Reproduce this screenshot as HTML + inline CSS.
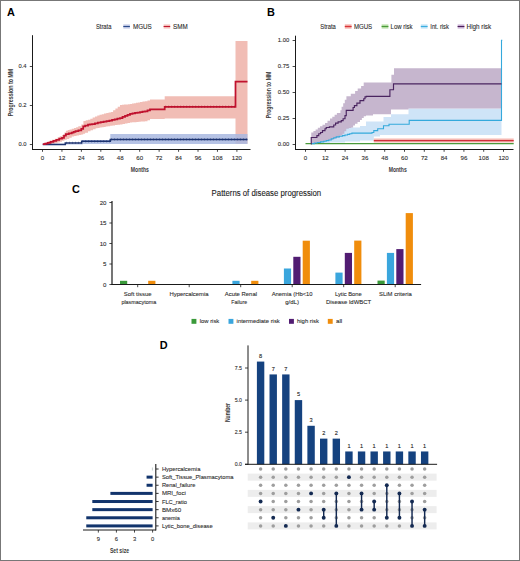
<!DOCTYPE html>
<html><head><meta charset="utf-8"><title>Figure</title>
<style>html,body{margin:0;padding:0;background:#fff;}body{width:520px;height:561px;overflow:hidden;font-family:"Liberation Sans", sans-serif;}svg{display:block;}</style>
</head><body>
<svg width="520" height="561" viewBox="0 0 520 561" font-family='"Liberation Sans", sans-serif'>
<rect x="0" y="0" width="520" height="561" fill="#fff"/>
<text x="7" y="15.9" font-size="10.9" font-weight="bold" fill="#000">A</text>
<text x="267" y="15.8" font-size="10.9" font-weight="bold" fill="#000">B</text>
<text x="72" y="192.7" font-size="10.9" font-weight="bold" fill="#000">C</text>
<text x="159.7" y="349.3" font-size="10.9" font-weight="bold" fill="#000">D</text>
<text x="95.9" y="28.5" font-size="7.0" textLength="15.5" lengthAdjust="spacingAndGlyphs" fill="#2a2a2a" stroke="#2a2a2a" stroke-width="0.1">Strata</text>
<rect x="123.30" y="24.40" width="6.60" height="4.20" fill="#c3cbe6"/>
<line x1="123.3" y1="26.5" x2="129.9" y2="26.5" stroke="#2a4a8a" stroke-width="1.1"/>
<text x="133.0" y="28.6" font-size="7.0" textLength="18.8" lengthAdjust="spacingAndGlyphs" fill="#2a2a2a" stroke="#2a2a2a" stroke-width="0.1">MGUS</text>
<rect x="163.60" y="24.40" width="6.60" height="4.20" fill="#f6c4be"/>
<line x1="163.6" y1="26.5" x2="170.2" y2="26.5" stroke="#c0182e" stroke-width="1.1"/>
<text x="173.0" y="28.6" font-size="7.0" textLength="14.7" lengthAdjust="spacingAndGlyphs" fill="#2a2a2a" stroke="#2a2a2a" stroke-width="0.1">SMM</text>
<path d="M42.60,144.20L45.10,144.20L45.10,142.75L47.60,142.75L47.60,141.30L49.80,141.30L49.80,140.55L52.00,140.55L52.00,139.80L54.75,139.80L54.75,138.65L57.50,138.65L57.50,137.50L59.75,137.50L59.75,136.25L62.00,136.25L62.00,135.00L64.40,135.00L64.40,132.50L65.90,132.50L65.90,130.75L67.75,130.75L67.75,130.12L69.60,130.12L69.60,129.50L71.80,129.50L71.80,128.75L74.00,128.75L74.00,128.00L76.15,128.00L76.15,127.15L78.30,127.15L78.30,126.30L81.30,126.30L81.30,124.50L83.40,124.50L83.40,120.90L85.70,120.90L85.70,120.30L88.00,120.30L88.00,119.70L90.33,119.70L90.33,118.65L92.65,118.65L92.65,117.60L94.97,117.60L94.97,116.55L97.30,116.55L97.30,115.50L99.53,115.50L99.53,114.83L101.77,114.83L101.77,114.17L104.00,114.17L104.00,113.50L106.27,113.50L106.27,113.00L108.53,113.00L108.53,112.50L110.80,112.50L110.80,112.00L113.10,112.00L113.10,110.25L115.40,110.25L115.40,108.50L117.70,108.50L117.70,106.75L120.00,106.75L120.00,105.00L122.00,105.00L122.00,104.80L124.00,104.80L124.00,104.60L126.00,104.60L126.00,104.40L128.00,104.40L128.00,104.20L130.00,104.20L130.00,104.00L132.00,104.00L132.00,103.60L134.00,103.60L134.00,103.20L136.00,103.20L136.00,102.80L138.00,102.80L138.00,102.40L140.00,102.40L140.00,102.00L142.50,102.00L142.50,101.62L145.00,101.62L145.00,101.25L147.50,101.25L147.50,100.38L150.00,100.38L150.00,99.50L164.70,99.50L164.70,96.30L235.50,96.30L235.50,41.00L247.50,41.00L247.50,143.80L235.50,143.80L235.50,118.40L164.70,118.40L164.70,119.10L150.00,119.10L150.00,120.17L147.50,120.17L147.50,121.25L145.00,121.25L145.00,121.43L142.86,121.43L142.86,121.61L140.71,121.61L140.71,121.79L138.57,121.79L138.57,121.96L136.43,121.96L136.43,122.14L134.29,122.14L134.29,122.32L132.14,122.32L132.14,122.50L130.00,122.50L130.00,123.00L127.50,123.00L127.50,123.50L125.00,123.50L125.00,124.00L122.50,124.00L122.50,124.50L120.00,124.50L120.00,124.75L117.50,124.75L117.50,125.00L115.00,125.00L115.00,125.40L112.57,125.40L112.57,125.80L110.13,125.80L110.13,126.20L107.70,126.20L107.70,126.55L105.68,126.55L105.68,126.90L103.67,126.90L103.67,127.25L101.65,127.25L101.65,127.60L99.63,127.60L99.63,127.95L97.62,127.95L97.62,128.30L95.60,128.30L95.60,129.27L93.07,129.27L93.07,130.23L90.53,130.23L90.53,131.20L88.00,131.20L88.00,132.70L85.10,132.70L85.10,133.65L83.20,133.65L83.20,134.60L81.30,134.60L81.30,135.10L78.90,135.10L78.90,135.60L76.50,135.60L76.50,136.05L74.10,136.05L74.10,136.50L71.70,136.50L71.70,137.70L69.25,137.70L69.25,138.90L66.80,138.90L66.80,139.85L64.40,139.85L64.40,140.80L62.00,140.80L62.00,141.65L59.75,141.65L59.75,142.50L57.50,142.50L57.50,143.15L54.75,143.15L54.75,143.80L52.00,143.80L52.00,143.90L49.65,143.90L49.65,144.00L47.30,144.00L47.30,144.10L44.95,144.10L44.95,144.20L42.60,144.20Z" fill="#f0b9b1" fill-opacity="0.95"/>
<path d="M42.60,144.60L82.60,144.60L82.60,139.90L110.30,139.90L110.30,134.00L247.50,134.00L247.50,143.90L110.30,143.90L110.30,143.90L82.60,143.90L82.60,143.80L42.60,143.80Z" fill="#a9b9e0" fill-opacity="0.85"/>
<path d="M42.80,144.40L65.30,144.40L65.30,142.90L81.70,142.90L81.70,141.20L110.30,141.20L110.30,139.40L247.50,139.40" fill="none" stroke="#1c3370" stroke-width="1.55"/>
<path d="M42.80,144.20L45.20,144.20L45.20,143.50L47.60,143.50L47.60,142.80L50.50,142.80L50.50,141.80L53.40,141.80L53.40,140.80L56.30,140.80L56.30,139.90L59.20,139.90L59.20,138.70L62.00,138.70L62.00,137.80L64.00,137.80L64.00,135.60L65.90,135.60L65.90,134.10L68.80,134.10L68.80,133.30L71.70,133.30L71.70,132.70L73.60,132.70L73.60,131.95L75.50,131.95L75.50,131.20L78.40,131.20L78.40,130.30L81.30,130.30L81.30,128.80L83.20,128.80L83.20,126.40L85.10,126.40L85.10,125.50L88.00,125.50L88.00,124.50L90.05,124.50L90.05,124.25L92.10,124.25L92.10,124.00L94.97,124.00L94.97,123.37L97.83,123.37L97.83,122.73L100.70,122.73L100.70,122.10L103.60,122.10L103.60,121.57L106.50,121.57L106.50,121.03L109.40,121.03L109.40,120.50L112.05,120.50L112.05,119.88L114.70,119.88L114.70,119.25L117.35,119.25L117.35,118.62L120.00,118.62L120.00,118.00L122.50,118.00L122.50,116.95L125.00,116.95L125.00,115.90L127.50,115.90L127.50,114.85L130.00,114.85L130.00,113.80L132.50,113.80L132.50,113.38L135.00,113.38L135.00,112.95L137.50,112.95L137.50,112.53L140.00,112.53L140.00,112.10L142.50,112.10L142.50,111.67L145.00,111.67L145.00,111.25L147.50,111.25L147.50,110.28L150.00,110.28L150.00,109.30L164.70,109.30L164.70,106.80L235.50,106.80L235.50,81.50L247.50,81.50" fill="none" stroke="#c0122e" stroke-width="1.75"/>
<line x1="66" y1="142.9" x2="81.5" y2="142.9" stroke="#1c3370" stroke-width="2.4" stroke-dasharray="0.6 2.4" stroke-opacity="0.75"/>
<line x1="82.5" y1="141.2" x2="110" y2="141.2" stroke="#1c3370" stroke-width="2.4" stroke-dasharray="0.6 2.4" stroke-opacity="0.75"/>
<line x1="111" y1="139.4" x2="247" y2="139.4" stroke="#1c3370" stroke-width="2.4" stroke-dasharray="0.6 2.4" stroke-opacity="0.75"/>
<line x1="165.5" y1="106.8" x2="235" y2="106.8" stroke="#b0102a" stroke-width="2.4" stroke-dasharray="0.6 2.4" stroke-opacity="0.75"/>
<line x1="32.5" y1="35.2" x2="32.5" y2="150.0" stroke="#1a1a1a" stroke-width="1"/>
<line x1="32.0" y1="149.5" x2="250.5" y2="149.5" stroke="#1a1a1a" stroke-width="1"/>
<line x1="29.8" y1="144.5" x2="32.5" y2="144.5" stroke="#1a1a1a" stroke-width="0.8"/>
<text x="26.6" y="146.3" font-size="6.0" text-anchor="end" textLength="8.1" lengthAdjust="spacingAndGlyphs" fill="#2e2e2e" stroke="#2e2e2e" stroke-width="0.1">0.0</text>
<line x1="29.8" y1="105.5" x2="32.5" y2="105.5" stroke="#1a1a1a" stroke-width="0.8"/>
<text x="26.6" y="107.3" font-size="6.0" text-anchor="end" textLength="8.1" lengthAdjust="spacingAndGlyphs" fill="#2e2e2e" stroke="#2e2e2e" stroke-width="0.1">0.2</text>
<line x1="29.8" y1="66.5" x2="32.5" y2="66.5" stroke="#1a1a1a" stroke-width="0.8"/>
<text x="26.6" y="68.3" font-size="6.0" text-anchor="end" textLength="8.1" lengthAdjust="spacingAndGlyphs" fill="#2e2e2e" stroke="#2e2e2e" stroke-width="0.1">0.4</text>
<line x1="42.5" y1="149.5" x2="42.5" y2="151.8" stroke="#1a1a1a" stroke-width="0.8"/>
<text x="42.5" y="160.4" font-size="6.1" text-anchor="middle" fill="#2e2e2e" stroke="#2e2e2e" stroke-width="0.1">0</text>
<line x1="61.94" y1="149.5" x2="61.94" y2="151.8" stroke="#1a1a1a" stroke-width="0.8"/>
<text x="61.94" y="160.4" font-size="6.1" text-anchor="middle" fill="#2e2e2e" stroke="#2e2e2e" stroke-width="0.1">12</text>
<line x1="81.38" y1="149.5" x2="81.38" y2="151.8" stroke="#1a1a1a" stroke-width="0.8"/>
<text x="81.38" y="160.4" font-size="6.1" text-anchor="middle" fill="#2e2e2e" stroke="#2e2e2e" stroke-width="0.1">24</text>
<line x1="100.82000000000001" y1="149.5" x2="100.82000000000001" y2="151.8" stroke="#1a1a1a" stroke-width="0.8"/>
<text x="100.82000000000001" y="160.4" font-size="6.1" text-anchor="middle" fill="#2e2e2e" stroke="#2e2e2e" stroke-width="0.1">36</text>
<line x1="120.26" y1="149.5" x2="120.26" y2="151.8" stroke="#1a1a1a" stroke-width="0.8"/>
<text x="120.26" y="160.4" font-size="6.1" text-anchor="middle" fill="#2e2e2e" stroke="#2e2e2e" stroke-width="0.1">48</text>
<line x1="139.7" y1="149.5" x2="139.7" y2="151.8" stroke="#1a1a1a" stroke-width="0.8"/>
<text x="139.7" y="160.4" font-size="6.1" text-anchor="middle" fill="#2e2e2e" stroke="#2e2e2e" stroke-width="0.1">60</text>
<line x1="159.14000000000001" y1="149.5" x2="159.14000000000001" y2="151.8" stroke="#1a1a1a" stroke-width="0.8"/>
<text x="159.14000000000001" y="160.4" font-size="6.1" text-anchor="middle" fill="#2e2e2e" stroke="#2e2e2e" stroke-width="0.1">72</text>
<line x1="178.58" y1="149.5" x2="178.58" y2="151.8" stroke="#1a1a1a" stroke-width="0.8"/>
<text x="178.58" y="160.4" font-size="6.1" text-anchor="middle" fill="#2e2e2e" stroke="#2e2e2e" stroke-width="0.1">84</text>
<line x1="198.02" y1="149.5" x2="198.02" y2="151.8" stroke="#1a1a1a" stroke-width="0.8"/>
<text x="198.02" y="160.4" font-size="6.1" text-anchor="middle" fill="#2e2e2e" stroke="#2e2e2e" stroke-width="0.1">96</text>
<line x1="217.46" y1="149.5" x2="217.46" y2="151.8" stroke="#1a1a1a" stroke-width="0.8"/>
<text x="217.46" y="160.4" font-size="6.1" text-anchor="middle" fill="#2e2e2e" stroke="#2e2e2e" stroke-width="0.1">108</text>
<line x1="236.9" y1="149.5" x2="236.9" y2="151.8" stroke="#1a1a1a" stroke-width="0.8"/>
<text x="236.9" y="160.4" font-size="6.1" text-anchor="middle" fill="#2e2e2e" stroke="#2e2e2e" stroke-width="0.1">120</text>
<text x="139.9" y="172.2" font-size="7.7" text-anchor="middle" font-weight="bold" textLength="18.1" lengthAdjust="spacingAndGlyphs" fill="#3a3a3a">Months</text>
<g transform="translate(12.6,92.5) rotate(-90)">
<text x="0" y="0" font-size="7.5" text-anchor="middle" font-weight="bold" textLength="47.5" lengthAdjust="spacingAndGlyphs" fill="#3a3a3a">Progression to MM</text>
</g>
<text x="320.3" y="28.5" font-size="7.0" textLength="15.5" lengthAdjust="spacingAndGlyphs" fill="#2a2a2a" stroke="#2a2a2a" stroke-width="0.1">Strata</text>
<rect x="344.80" y="24.40" width="6.80" height="4.20" fill="#f4aaa4"/>
<line x1="344.8" y1="26.5" x2="351.6" y2="26.5" stroke="#d8343a" stroke-width="1.1"/>
<text x="353.9" y="28.6" font-size="7.0" textLength="18.3" lengthAdjust="spacingAndGlyphs" fill="#2a2a2a" stroke="#2a2a2a" stroke-width="0.1">MGUS</text>
<rect x="381.60" y="24.40" width="6.80" height="4.20" fill="#b9e0a8"/>
<line x1="381.6" y1="26.5" x2="388.40000000000003" y2="26.5" stroke="#4a9a3a" stroke-width="1.1"/>
<text x="390.6" y="28.6" font-size="7.0" textLength="22.0" lengthAdjust="spacingAndGlyphs" fill="#2a2a2a" stroke="#2a2a2a" stroke-width="0.1">Low risk</text>
<rect x="420.80" y="24.40" width="6.80" height="4.20" fill="#bfe3f7"/>
<line x1="420.8" y1="26.5" x2="427.6" y2="26.5" stroke="#3aaee0" stroke-width="1.1"/>
<text x="430.3" y="28.6" font-size="7.0" textLength="18.6" lengthAdjust="spacingAndGlyphs" fill="#2a2a2a" stroke="#2a2a2a" stroke-width="0.1">Int. risk</text>
<rect x="457.60" y="24.40" width="6.80" height="4.20" fill="#cdb6d8"/>
<line x1="457.6" y1="26.5" x2="464.40000000000003" y2="26.5" stroke="#4b1e5a" stroke-width="1.1"/>
<text x="466.6" y="28.6" font-size="7.0" textLength="24.6" lengthAdjust="spacingAndGlyphs" fill="#2a2a2a" stroke="#2a2a2a" stroke-width="0.1">High risk</text>
<path d="M311.50,143.40L313.75,143.40L313.75,142.45L316.00,142.45L316.00,141.50L318.00,141.50L318.00,141.00L320.00,141.00L320.00,140.50L322.50,140.50L322.50,139.75L325.00,139.75L325.00,139.00L327.50,139.00L327.50,138.25L330.00,138.25L330.00,137.50L332.50,137.50L332.50,136.50L335.00,136.50L335.00,135.50L337.50,135.50L337.50,134.00L340.00,134.00L340.00,132.50L343.00,132.50L343.00,130.00L346.00,130.00L346.00,127.50L360.00,127.50L360.00,126.00L366.00,126.00L366.00,121.50L383.50,121.50L383.50,117.00L391.00,117.00L391.00,114.20L408.50,114.20L408.50,108.50L501.50,108.50L501.50,135.10L380.00,135.10L380.00,136.50L373.80,136.50L373.80,140.50L360.00,140.50L360.00,141.50L345.00,141.50L345.00,142.50L330.00,142.50L330.00,143.80L311.50,143.80Z" fill="#cfe4f7"/>
<path d="M311.25,132.50L313.44,132.50L313.44,130.94L315.62,130.94L315.62,129.38L317.81,129.38L317.81,127.81L320.00,127.81L320.00,126.25L322.50,126.25L322.50,124.67L325.00,124.67L325.00,123.10L327.50,123.10L327.50,120.80L330.00,120.80L330.00,118.50L332.30,118.50L332.30,116.67L334.60,116.67L334.60,114.83L336.90,114.83L336.90,113.00L340.40,113.00L340.40,110.20L341.60,110.20L341.60,106.70L343.20,106.70L343.20,103.30L344.80,103.30L344.80,99.80L346.40,99.80L346.40,96.30L350.80,96.30L350.80,93.70L355.10,93.70L355.10,91.10L357.70,91.10L357.70,88.50L361.10,88.50L361.10,86.00L363.70,86.00L363.70,82.50L391.40,82.50L391.40,74.70L394.00,74.70L394.00,68.20L501.50,68.20L501.50,108.50L408.50,108.50L408.50,109.40L391.00,109.40L391.00,114.20L373.00,114.20L373.00,115.40L366.00,115.40L366.00,116.25L363.75,116.25L363.75,118.12L361.88,118.12L361.88,120.00L360.00,120.00L360.00,121.88L357.50,121.88L357.50,123.75L355.00,123.75L355.00,125.62L353.12,125.62L353.12,127.50L351.25,127.50L351.25,128.12L348.75,128.12L348.75,128.75L346.25,128.75L346.25,131.25L344.38,131.25L344.38,133.75L342.50,133.75L342.50,135.62L339.38,135.62L339.38,137.50L336.25,137.50L336.25,138.75L333.12,138.75L333.12,140.00L330.00,140.00L330.00,140.50L327.50,140.50L327.50,141.00L325.00,141.00L325.00,141.50L322.67,141.50L322.67,142.00L320.33,142.00L320.33,142.50L318.00,142.50L318.00,142.93L315.75,142.93L315.75,143.37L313.50,143.37L313.50,143.80L311.25,143.80Z" fill="#c1b0ca" fill-opacity="0.92"/>
<path d="M373.80,138.60L513.70,138.60L513.70,142.40L373.80,142.40Z" fill="#f6b8b2"/>
<path d="M373.80,140.60L513.70,140.60" fill="none" stroke="#d0303a" stroke-width="1.2"/>
<path d="M305.50,143.60L513.70,143.60" fill="none" stroke="#4a9a3a" stroke-width="1.3"/>
<path d="M311.30,143.60L314.40,143.60L314.40,143.05L317.50,143.05L317.50,142.50L320.62,142.50L320.62,141.88L323.75,141.88L323.75,141.25L326.25,141.25L326.25,140.62L328.75,140.62L328.75,140.00L331.25,140.00L331.25,138.75L333.75,138.75L333.75,137.82L336.25,137.82L336.25,136.90L339.38,136.90L339.38,136.25L342.50,136.25L342.50,135.60L345.00,135.60L345.00,135.00L347.50,135.00L347.50,134.40L349.70,134.40L349.70,133.75L351.90,133.75L351.90,133.10L372.00,133.10L372.00,132.50L373.80,132.50L373.80,130.60L377.70,130.60L377.70,128.70L383.50,128.70L383.50,125.80L389.00,125.80L389.00,124.20L409.20,124.20L409.20,120.40L501.50,120.40L501.50,40.30L502.30,40.30" fill="none" stroke="#35a9dc" stroke-width="1.1"/>
<path d="M310.80,143.80L311.25,143.80L311.25,137.50L316.90,137.50L316.90,135.60L318.75,135.60L318.75,133.75L320.60,133.75L320.60,132.50L322.50,132.50L322.50,130.60L325.00,130.60L325.00,128.75L326.25,128.75L326.25,127.50L329.40,127.50L329.40,126.90L333.75,126.90L333.75,125.00L335.60,125.00L335.60,123.10L338.10,123.10L338.10,121.90L341.25,121.90L341.25,120.60L343.10,120.60L343.10,118.75L345.00,118.75L345.00,115.60L346.25,115.60L346.25,110.30L353.10,110.30L353.10,107.50L354.40,107.50L354.40,105.60L356.90,105.60L356.90,103.10L360.00,103.10L360.00,100.60L363.75,100.60L363.75,98.75L365.00,98.75L365.00,96.90L366.25,96.90L366.25,96.30L389.90,96.30L389.90,89.70L393.50,89.70L393.50,83.90L501.50,83.90" fill="none" stroke="#4a2460" stroke-width="1.15"/>
<line x1="295.5" y1="35.7" x2="295.5" y2="150.0" stroke="#1a1a1a" stroke-width="1"/>
<line x1="295.0" y1="149.5" x2="513.5" y2="149.5" stroke="#1a1a1a" stroke-width="1"/>
<line x1="292.6" y1="144.5" x2="295.5" y2="144.5" stroke="#1a1a1a" stroke-width="0.8"/>
<text x="289.3" y="146.3" font-size="6.0" text-anchor="end" textLength="11.5" lengthAdjust="spacingAndGlyphs" fill="#2e2e2e" stroke="#2e2e2e" stroke-width="0.1">0.00</text>
<line x1="292.6" y1="118.5" x2="295.5" y2="118.5" stroke="#1a1a1a" stroke-width="0.8"/>
<text x="289.3" y="120.3" font-size="6.0" text-anchor="end" textLength="11.5" lengthAdjust="spacingAndGlyphs" fill="#2e2e2e" stroke="#2e2e2e" stroke-width="0.1">0.25</text>
<line x1="292.6" y1="92.5" x2="295.5" y2="92.5" stroke="#1a1a1a" stroke-width="0.8"/>
<text x="289.3" y="94.3" font-size="6.0" text-anchor="end" textLength="11.5" lengthAdjust="spacingAndGlyphs" fill="#2e2e2e" stroke="#2e2e2e" stroke-width="0.1">0.50</text>
<line x1="292.6" y1="66.5" x2="295.5" y2="66.5" stroke="#1a1a1a" stroke-width="0.8"/>
<text x="289.3" y="68.3" font-size="6.0" text-anchor="end" textLength="11.5" lengthAdjust="spacingAndGlyphs" fill="#2e2e2e" stroke="#2e2e2e" stroke-width="0.1">0.75</text>
<line x1="292.6" y1="40.5" x2="295.5" y2="40.5" stroke="#1a1a1a" stroke-width="0.8"/>
<text x="289.3" y="42.3" font-size="6.0" text-anchor="end" textLength="11.5" lengthAdjust="spacingAndGlyphs" fill="#2e2e2e" stroke="#2e2e2e" stroke-width="0.1">1.00</text>
<line x1="305.5" y1="149.5" x2="305.5" y2="151.8" stroke="#1a1a1a" stroke-width="0.8"/>
<text x="305.5" y="160.4" font-size="6.1" text-anchor="middle" fill="#2e2e2e" stroke="#2e2e2e" stroke-width="0.1">0</text>
<line x1="325.3" y1="149.5" x2="325.3" y2="151.8" stroke="#1a1a1a" stroke-width="0.8"/>
<text x="325.3" y="160.4" font-size="6.1" text-anchor="middle" fill="#2e2e2e" stroke="#2e2e2e" stroke-width="0.1">12</text>
<line x1="345.1" y1="149.5" x2="345.1" y2="151.8" stroke="#1a1a1a" stroke-width="0.8"/>
<text x="345.1" y="160.4" font-size="6.1" text-anchor="middle" fill="#2e2e2e" stroke="#2e2e2e" stroke-width="0.1">24</text>
<line x1="364.9" y1="149.5" x2="364.9" y2="151.8" stroke="#1a1a1a" stroke-width="0.8"/>
<text x="364.9" y="160.4" font-size="6.1" text-anchor="middle" fill="#2e2e2e" stroke="#2e2e2e" stroke-width="0.1">36</text>
<line x1="384.7" y1="149.5" x2="384.7" y2="151.8" stroke="#1a1a1a" stroke-width="0.8"/>
<text x="384.7" y="160.4" font-size="6.1" text-anchor="middle" fill="#2e2e2e" stroke="#2e2e2e" stroke-width="0.1">48</text>
<line x1="404.5" y1="149.5" x2="404.5" y2="151.8" stroke="#1a1a1a" stroke-width="0.8"/>
<text x="404.5" y="160.4" font-size="6.1" text-anchor="middle" fill="#2e2e2e" stroke="#2e2e2e" stroke-width="0.1">60</text>
<line x1="424.3" y1="149.5" x2="424.3" y2="151.8" stroke="#1a1a1a" stroke-width="0.8"/>
<text x="424.3" y="160.4" font-size="6.1" text-anchor="middle" fill="#2e2e2e" stroke="#2e2e2e" stroke-width="0.1">72</text>
<line x1="444.1" y1="149.5" x2="444.1" y2="151.8" stroke="#1a1a1a" stroke-width="0.8"/>
<text x="444.1" y="160.4" font-size="6.1" text-anchor="middle" fill="#2e2e2e" stroke="#2e2e2e" stroke-width="0.1">84</text>
<line x1="463.9" y1="149.5" x2="463.9" y2="151.8" stroke="#1a1a1a" stroke-width="0.8"/>
<text x="463.9" y="160.4" font-size="6.1" text-anchor="middle" fill="#2e2e2e" stroke="#2e2e2e" stroke-width="0.1">96</text>
<line x1="483.7" y1="149.5" x2="483.7" y2="151.8" stroke="#1a1a1a" stroke-width="0.8"/>
<text x="483.7" y="160.4" font-size="6.1" text-anchor="middle" fill="#2e2e2e" stroke="#2e2e2e" stroke-width="0.1">108</text>
<line x1="503.5" y1="149.5" x2="503.5" y2="151.8" stroke="#1a1a1a" stroke-width="0.8"/>
<text x="503.5" y="160.4" font-size="6.1" text-anchor="middle" fill="#2e2e2e" stroke="#2e2e2e" stroke-width="0.1">120</text>
<text x="397.7" y="172.2" font-size="7.7" text-anchor="middle" font-weight="bold" textLength="18.1" lengthAdjust="spacingAndGlyphs" fill="#3a3a3a">Months</text>
<g transform="translate(271.2,95) rotate(-90)">
<text x="0" y="0" font-size="7.5" text-anchor="middle" font-weight="bold" textLength="46.5" lengthAdjust="spacingAndGlyphs" fill="#3a3a3a">Progression to MM</text>
</g>
<text x="266.4" y="195.7" font-size="8.3" text-anchor="middle" textLength="109.6" lengthAdjust="spacingAndGlyphs" fill="#222" stroke="#222" stroke-width="0.1">Patterns of disease progression</text>
<rect x="120.00" y="280.80" width="7.20" height="3.70" fill="#3a9a3a"/>
<rect x="148.20" y="280.80" width="7.20" height="3.70" fill="#f08d0c"/>
<line x1="137.7" y1="284.5" x2="137.7" y2="287.2" stroke="#1a1a1a" stroke-width="0.8"/>
<text x="137.65" y="295.8" font-size="5.9" text-anchor="middle" textLength="27.7" lengthAdjust="spacingAndGlyphs" fill="#2e2e2e" stroke="#2e2e2e" stroke-width="0.1">Soft tissue</text>
<text x="138.8" y="303.5" font-size="5.9" text-anchor="middle" textLength="34.8" lengthAdjust="spacingAndGlyphs" fill="#2e2e2e" stroke="#2e2e2e" stroke-width="0.1">plasmacytoma</text>
<line x1="189.2" y1="284.5" x2="189.2" y2="287.2" stroke="#1a1a1a" stroke-width="0.8"/>
<text x="189.0" y="295.8" font-size="5.9" text-anchor="middle" textLength="39.0" lengthAdjust="spacingAndGlyphs" fill="#2e2e2e" stroke="#2e2e2e" stroke-width="0.1">Hypercalcemia</text>
<rect x="232.40" y="280.80" width="7.20" height="3.70" fill="#3aa6dd"/>
<rect x="251.20" y="280.80" width="7.20" height="3.70" fill="#f08d0c"/>
<line x1="240.7" y1="284.5" x2="240.7" y2="287.2" stroke="#1a1a1a" stroke-width="0.8"/>
<text x="240.9" y="295.8" font-size="5.9" text-anchor="middle" textLength="32.2" lengthAdjust="spacingAndGlyphs" fill="#2e2e2e" stroke="#2e2e2e" stroke-width="0.1">Acute Renal</text>
<text x="239.2" y="303.5" font-size="5.9" text-anchor="middle" textLength="16.0" lengthAdjust="spacingAndGlyphs" fill="#2e2e2e" stroke="#2e2e2e" stroke-width="0.1">Failure</text>
<rect x="283.90" y="268.50" width="7.20" height="16.00" fill="#3aa6dd"/>
<rect x="293.30" y="256.80" width="7.20" height="27.70" fill="#511c72"/>
<rect x="302.70" y="240.70" width="7.20" height="43.80" fill="#f08d0c"/>
<line x1="292.2" y1="284.5" x2="292.2" y2="287.2" stroke="#1a1a1a" stroke-width="0.8"/>
<text x="292.15" y="295.8" font-size="5.9" text-anchor="middle" textLength="40.9" lengthAdjust="spacingAndGlyphs" fill="#2e2e2e" stroke="#2e2e2e" stroke-width="0.1">Anemia (Hb&lt;10</text>
<text x="292.1" y="303.5" font-size="5.9" text-anchor="middle" textLength="13.8" lengthAdjust="spacingAndGlyphs" fill="#2e2e2e" stroke="#2e2e2e" stroke-width="0.1">g/dL)</text>
<rect x="335.40" y="272.60" width="7.20" height="11.90" fill="#3aa6dd"/>
<rect x="344.80" y="252.90" width="7.20" height="31.60" fill="#511c72"/>
<rect x="354.20" y="240.60" width="7.20" height="43.90" fill="#f08d0c"/>
<line x1="343.7" y1="284.5" x2="343.7" y2="287.2" stroke="#1a1a1a" stroke-width="0.8"/>
<text x="348.35" y="295.8" font-size="5.9" text-anchor="middle" textLength="26.9" lengthAdjust="spacingAndGlyphs" fill="#2e2e2e" stroke="#2e2e2e" stroke-width="0.1">Lytic Bone</text>
<text x="348.55" y="303.5" font-size="5.9" text-anchor="middle" textLength="45.3" lengthAdjust="spacingAndGlyphs" fill="#2e2e2e" stroke="#2e2e2e" stroke-width="0.1">Disease ldWBCT</text>
<rect x="377.50" y="280.60" width="7.20" height="3.90" fill="#3a9a3a"/>
<rect x="386.90" y="252.90" width="7.20" height="31.60" fill="#3aa6dd"/>
<rect x="396.30" y="249.10" width="7.20" height="35.40" fill="#511c72"/>
<rect x="405.70" y="213.10" width="7.20" height="71.40" fill="#f08d0c"/>
<line x1="395.2" y1="284.5" x2="395.2" y2="287.2" stroke="#1a1a1a" stroke-width="0.8"/>
<text x="395.45" y="295.8" font-size="5.9" text-anchor="middle" textLength="32.7" lengthAdjust="spacingAndGlyphs" fill="#2e2e2e" stroke="#2e2e2e" stroke-width="0.1">SLiM criteria</text>
<line x1="112.0" y1="201" x2="112.0" y2="285.0" stroke="#1a1a1a" stroke-width="1.2"/>
<line x1="111.5" y1="284.5" x2="421.1" y2="284.5" stroke="#1a1a1a" stroke-width="1"/>
<line x1="109.4" y1="284.5" x2="112.0" y2="284.5" stroke="#1a1a1a" stroke-width="0.8"/>
<text x="106.5" y="286.7" font-size="6.1" text-anchor="end" fill="#2e2e2e" stroke="#2e2e2e" stroke-width="0.1">0</text>
<line x1="109.4" y1="264.0" x2="112.0" y2="264.0" stroke="#1a1a1a" stroke-width="0.8"/>
<text x="106.5" y="266.2" font-size="6.1" text-anchor="end" fill="#2e2e2e" stroke="#2e2e2e" stroke-width="0.1">5</text>
<line x1="109.4" y1="243.5" x2="112.0" y2="243.5" stroke="#1a1a1a" stroke-width="0.8"/>
<text x="106.5" y="245.7" font-size="6.1" text-anchor="end" fill="#2e2e2e" stroke="#2e2e2e" stroke-width="0.1">10</text>
<line x1="109.4" y1="223.0" x2="112.0" y2="223.0" stroke="#1a1a1a" stroke-width="0.8"/>
<text x="106.5" y="225.2" font-size="6.1" text-anchor="end" fill="#2e2e2e" stroke="#2e2e2e" stroke-width="0.1">15</text>
<line x1="109.4" y1="202.5" x2="112.0" y2="202.5" stroke="#1a1a1a" stroke-width="0.8"/>
<text x="106.5" y="204.7" font-size="6.1" text-anchor="end" fill="#2e2e2e" stroke="#2e2e2e" stroke-width="0.1">20</text>
<rect x="191.50" y="318.90" width="4.90" height="4.90" fill="#3a9a3a"/>
<text x="199.7" y="323.4" font-size="5.8" textLength="19.6" lengthAdjust="spacingAndGlyphs" fill="#2e2e2e" stroke="#2e2e2e" stroke-width="0.1">low risk</text>
<rect x="228.50" y="318.90" width="4.90" height="4.90" fill="#3aa6dd"/>
<text x="236.6" y="323.4" font-size="5.8" textLength="43.2" lengthAdjust="spacingAndGlyphs" fill="#2e2e2e" stroke="#2e2e2e" stroke-width="0.1">intermediate risk</text>
<rect x="289.00" y="318.90" width="4.90" height="4.90" fill="#511c72"/>
<text x="297" y="323.4" font-size="5.8" textLength="22" lengthAdjust="spacingAndGlyphs" fill="#2e2e2e" stroke="#2e2e2e" stroke-width="0.1">high risk</text>
<rect x="327.80" y="318.90" width="4.90" height="4.90" fill="#f08d0c"/>
<text x="336" y="323.4" font-size="5.8" textLength="6.2" lengthAdjust="spacingAndGlyphs" fill="#2e2e2e" stroke="#2e2e2e" stroke-width="0.1">all</text>
<rect x="256.90" y="361.58" width="7.40" height="102.72" fill="#15427f"/>
<text x="260.6" y="357.78000000000003" font-size="5.6" text-anchor="middle" fill="#222" stroke="#222" stroke-width="0.1">8</text>
<rect x="269.52" y="374.42" width="7.40" height="89.88" fill="#15427f"/>
<text x="273.22" y="370.62" font-size="5.6" text-anchor="middle" fill="#222" stroke="#222" stroke-width="0.1">7</text>
<rect x="282.14" y="374.42" width="7.40" height="89.88" fill="#15427f"/>
<text x="285.84000000000003" y="370.62" font-size="5.6" text-anchor="middle" fill="#222" stroke="#222" stroke-width="0.1">7</text>
<rect x="294.76" y="400.10" width="7.40" height="64.20" fill="#15427f"/>
<text x="298.46000000000004" y="396.3" font-size="5.6" text-anchor="middle" fill="#222" stroke="#222" stroke-width="0.1">5</text>
<rect x="307.38" y="425.78" width="7.40" height="38.52" fill="#15427f"/>
<text x="311.08000000000004" y="421.98" font-size="5.6" text-anchor="middle" fill="#222" stroke="#222" stroke-width="0.1">3</text>
<rect x="320.00" y="438.62" width="7.40" height="25.68" fill="#15427f"/>
<text x="323.70000000000005" y="434.82" font-size="5.6" text-anchor="middle" fill="#222" stroke="#222" stroke-width="0.1">2</text>
<rect x="332.62" y="438.62" width="7.40" height="25.68" fill="#15427f"/>
<text x="336.32000000000005" y="434.82" font-size="5.6" text-anchor="middle" fill="#222" stroke="#222" stroke-width="0.1">2</text>
<rect x="345.24" y="451.46" width="7.40" height="12.84" fill="#15427f"/>
<text x="348.94" y="447.66" font-size="5.6" text-anchor="middle" fill="#222" stroke="#222" stroke-width="0.1">1</text>
<rect x="357.86" y="451.46" width="7.40" height="12.84" fill="#15427f"/>
<text x="361.56" y="447.66" font-size="5.6" text-anchor="middle" fill="#222" stroke="#222" stroke-width="0.1">1</text>
<rect x="370.48" y="451.46" width="7.40" height="12.84" fill="#15427f"/>
<text x="374.18" y="447.66" font-size="5.6" text-anchor="middle" fill="#222" stroke="#222" stroke-width="0.1">1</text>
<rect x="383.10" y="451.46" width="7.40" height="12.84" fill="#15427f"/>
<text x="386.8" y="447.66" font-size="5.6" text-anchor="middle" fill="#222" stroke="#222" stroke-width="0.1">1</text>
<rect x="395.72" y="451.46" width="7.40" height="12.84" fill="#15427f"/>
<text x="399.42" y="447.66" font-size="5.6" text-anchor="middle" fill="#222" stroke="#222" stroke-width="0.1">1</text>
<rect x="408.34" y="451.46" width="7.40" height="12.84" fill="#15427f"/>
<text x="412.04" y="447.66" font-size="5.6" text-anchor="middle" fill="#222" stroke="#222" stroke-width="0.1">1</text>
<rect x="420.96" y="451.46" width="7.40" height="12.84" fill="#15427f"/>
<text x="424.66" y="447.66" font-size="5.6" text-anchor="middle" fill="#222" stroke="#222" stroke-width="0.1">1</text>
<line x1="248.0" y1="345.4" x2="248.0" y2="464.8" stroke="#1a1a1a" stroke-width="1"/>
<line x1="245.0" y1="464.3" x2="437.1" y2="464.3" stroke="#1a1a1a" stroke-width="1"/>
<line x1="245.0" y1="464.3" x2="248.0" y2="464.3" stroke="#1a1a1a" stroke-width="0.8"/>
<text x="241.9" y="465.90000000000003" font-size="5.9" text-anchor="end" textLength="7.2" lengthAdjust="spacingAndGlyphs" fill="#2e2e2e" stroke="#2e2e2e" stroke-width="0.1">0.0</text>
<line x1="245.0" y1="432.2" x2="248.0" y2="432.2" stroke="#1a1a1a" stroke-width="0.8"/>
<text x="241.9" y="433.8" font-size="5.9" text-anchor="end" textLength="7.2" lengthAdjust="spacingAndGlyphs" fill="#2e2e2e" stroke="#2e2e2e" stroke-width="0.1">2.5</text>
<line x1="245.0" y1="400.1" x2="248.0" y2="400.1" stroke="#1a1a1a" stroke-width="0.8"/>
<text x="241.9" y="401.70000000000005" font-size="5.9" text-anchor="end" textLength="7.2" lengthAdjust="spacingAndGlyphs" fill="#2e2e2e" stroke="#2e2e2e" stroke-width="0.1">5.0</text>
<line x1="245.0" y1="368.0" x2="248.0" y2="368.0" stroke="#1a1a1a" stroke-width="0.8"/>
<text x="241.9" y="369.6" font-size="5.9" text-anchor="end" textLength="7.2" lengthAdjust="spacingAndGlyphs" fill="#2e2e2e" stroke="#2e2e2e" stroke-width="0.1">7.5</text>
<g transform="translate(230.4,412.5) rotate(-90)">
<text x="0" y="0" font-size="7.5" text-anchor="middle" font-weight="bold" textLength="19.2" lengthAdjust="spacingAndGlyphs" fill="#3a3a3a">Number</text>
</g>
<rect x="247.70" y="473.63" width="188.90" height="7.00" fill="#ededed"/>
<rect x="247.70" y="489.89" width="188.90" height="7.00" fill="#ededed"/>
<rect x="247.70" y="506.15" width="188.90" height="7.00" fill="#ededed"/>
<rect x="247.70" y="522.41" width="188.90" height="7.00" fill="#ededed"/>
<circle cx="260.60" cy="469.00" r="1.75" fill="#9e9e9e"/>
<circle cx="260.60" cy="477.13" r="1.75" fill="#9e9e9e"/>
<circle cx="260.60" cy="485.26" r="1.75" fill="#9e9e9e"/>
<circle cx="260.60" cy="493.39" r="1.75" fill="#9e9e9e"/>
<circle cx="260.60" cy="509.65" r="1.75" fill="#9e9e9e"/>
<circle cx="260.60" cy="517.78" r="1.75" fill="#9e9e9e"/>
<circle cx="260.60" cy="525.91" r="1.75" fill="#9e9e9e"/>
<circle cx="260.60" cy="501.52" r="1.95" fill="#142a52"/>
<circle cx="273.22" cy="469.00" r="1.75" fill="#9e9e9e"/>
<circle cx="273.22" cy="477.13" r="1.75" fill="#9e9e9e"/>
<circle cx="273.22" cy="485.26" r="1.75" fill="#9e9e9e"/>
<circle cx="273.22" cy="493.39" r="1.75" fill="#9e9e9e"/>
<circle cx="273.22" cy="501.52" r="1.75" fill="#9e9e9e"/>
<circle cx="273.22" cy="509.65" r="1.75" fill="#9e9e9e"/>
<circle cx="273.22" cy="525.91" r="1.75" fill="#9e9e9e"/>
<circle cx="273.22" cy="517.78" r="1.95" fill="#142a52"/>
<circle cx="285.84" cy="469.00" r="1.75" fill="#9e9e9e"/>
<circle cx="285.84" cy="477.13" r="1.75" fill="#9e9e9e"/>
<circle cx="285.84" cy="485.26" r="1.75" fill="#9e9e9e"/>
<circle cx="285.84" cy="493.39" r="1.75" fill="#9e9e9e"/>
<circle cx="285.84" cy="501.52" r="1.75" fill="#9e9e9e"/>
<circle cx="285.84" cy="509.65" r="1.75" fill="#9e9e9e"/>
<circle cx="285.84" cy="517.78" r="1.75" fill="#9e9e9e"/>
<circle cx="285.84" cy="525.91" r="1.95" fill="#142a52"/>
<circle cx="298.46" cy="469.00" r="1.75" fill="#9e9e9e"/>
<circle cx="298.46" cy="477.13" r="1.75" fill="#9e9e9e"/>
<circle cx="298.46" cy="485.26" r="1.75" fill="#9e9e9e"/>
<circle cx="298.46" cy="493.39" r="1.75" fill="#9e9e9e"/>
<circle cx="298.46" cy="501.52" r="1.75" fill="#9e9e9e"/>
<circle cx="298.46" cy="517.78" r="1.75" fill="#9e9e9e"/>
<circle cx="298.46" cy="525.91" r="1.75" fill="#9e9e9e"/>
<circle cx="298.46" cy="509.65" r="1.95" fill="#142a52"/>
<circle cx="311.08" cy="469.00" r="1.75" fill="#9e9e9e"/>
<circle cx="311.08" cy="477.13" r="1.75" fill="#9e9e9e"/>
<circle cx="311.08" cy="485.26" r="1.75" fill="#9e9e9e"/>
<circle cx="311.08" cy="501.52" r="1.75" fill="#9e9e9e"/>
<circle cx="311.08" cy="509.65" r="1.75" fill="#9e9e9e"/>
<circle cx="311.08" cy="517.78" r="1.75" fill="#9e9e9e"/>
<circle cx="311.08" cy="525.91" r="1.75" fill="#9e9e9e"/>
<circle cx="311.08" cy="493.39" r="1.95" fill="#142a52"/>
<circle cx="323.70" cy="469.00" r="1.75" fill="#9e9e9e"/>
<circle cx="323.70" cy="477.13" r="1.75" fill="#9e9e9e"/>
<circle cx="323.70" cy="485.26" r="1.75" fill="#9e9e9e"/>
<circle cx="323.70" cy="493.39" r="1.75" fill="#9e9e9e"/>
<circle cx="323.70" cy="501.52" r="1.75" fill="#9e9e9e"/>
<circle cx="323.70" cy="525.91" r="1.75" fill="#9e9e9e"/>
<line x1="323.70000000000005" y1="509.65" x2="323.70000000000005" y2="517.78" stroke="#142a52" stroke-width="1.45"/>
<circle cx="323.70" cy="509.65" r="1.95" fill="#142a52"/>
<circle cx="323.70" cy="517.78" r="1.95" fill="#142a52"/>
<circle cx="336.32" cy="469.00" r="1.75" fill="#9e9e9e"/>
<circle cx="336.32" cy="477.13" r="1.75" fill="#9e9e9e"/>
<circle cx="336.32" cy="485.26" r="1.75" fill="#9e9e9e"/>
<circle cx="336.32" cy="501.52" r="1.75" fill="#9e9e9e"/>
<circle cx="336.32" cy="509.65" r="1.75" fill="#9e9e9e"/>
<circle cx="336.32" cy="517.78" r="1.75" fill="#9e9e9e"/>
<line x1="336.32000000000005" y1="493.39" x2="336.32000000000005" y2="525.91" stroke="#142a52" stroke-width="1.45"/>
<circle cx="336.32" cy="493.39" r="1.95" fill="#142a52"/>
<circle cx="336.32" cy="525.91" r="1.95" fill="#142a52"/>
<circle cx="348.94" cy="469.00" r="1.75" fill="#9e9e9e"/>
<circle cx="348.94" cy="485.26" r="1.75" fill="#9e9e9e"/>
<circle cx="348.94" cy="493.39" r="1.75" fill="#9e9e9e"/>
<circle cx="348.94" cy="501.52" r="1.75" fill="#9e9e9e"/>
<circle cx="348.94" cy="509.65" r="1.75" fill="#9e9e9e"/>
<circle cx="348.94" cy="517.78" r="1.75" fill="#9e9e9e"/>
<circle cx="348.94" cy="525.91" r="1.75" fill="#9e9e9e"/>
<circle cx="348.94" cy="477.13" r="1.95" fill="#142a52"/>
<circle cx="361.56" cy="469.00" r="1.75" fill="#9e9e9e"/>
<circle cx="361.56" cy="477.13" r="1.75" fill="#9e9e9e"/>
<circle cx="361.56" cy="485.26" r="1.75" fill="#9e9e9e"/>
<circle cx="361.56" cy="501.52" r="1.75" fill="#9e9e9e"/>
<circle cx="361.56" cy="517.78" r="1.75" fill="#9e9e9e"/>
<circle cx="361.56" cy="525.91" r="1.75" fill="#9e9e9e"/>
<line x1="361.56" y1="493.39" x2="361.56" y2="509.65" stroke="#142a52" stroke-width="1.45"/>
<circle cx="361.56" cy="493.39" r="1.95" fill="#142a52"/>
<circle cx="361.56" cy="509.65" r="1.95" fill="#142a52"/>
<circle cx="374.18" cy="469.00" r="1.75" fill="#9e9e9e"/>
<circle cx="374.18" cy="477.13" r="1.75" fill="#9e9e9e"/>
<circle cx="374.18" cy="485.26" r="1.75" fill="#9e9e9e"/>
<circle cx="374.18" cy="493.39" r="1.75" fill="#9e9e9e"/>
<circle cx="374.18" cy="517.78" r="1.75" fill="#9e9e9e"/>
<circle cx="374.18" cy="525.91" r="1.75" fill="#9e9e9e"/>
<line x1="374.18" y1="501.52" x2="374.18" y2="509.65" stroke="#142a52" stroke-width="1.45"/>
<circle cx="374.18" cy="501.52" r="1.95" fill="#142a52"/>
<circle cx="374.18" cy="509.65" r="1.95" fill="#142a52"/>
<circle cx="386.80" cy="469.00" r="1.75" fill="#9e9e9e"/>
<circle cx="386.80" cy="477.13" r="1.75" fill="#9e9e9e"/>
<circle cx="386.80" cy="493.39" r="1.75" fill="#9e9e9e"/>
<circle cx="386.80" cy="501.52" r="1.75" fill="#9e9e9e"/>
<circle cx="386.80" cy="509.65" r="1.75" fill="#9e9e9e"/>
<circle cx="386.80" cy="525.91" r="1.75" fill="#9e9e9e"/>
<line x1="386.8" y1="485.26" x2="386.8" y2="517.78" stroke="#142a52" stroke-width="1.45"/>
<circle cx="386.80" cy="485.26" r="1.95" fill="#142a52"/>
<circle cx="386.80" cy="517.78" r="1.95" fill="#142a52"/>
<circle cx="399.42" cy="469.00" r="1.75" fill="#9e9e9e"/>
<circle cx="399.42" cy="477.13" r="1.75" fill="#9e9e9e"/>
<circle cx="399.42" cy="485.26" r="1.75" fill="#9e9e9e"/>
<circle cx="399.42" cy="501.52" r="1.75" fill="#9e9e9e"/>
<circle cx="399.42" cy="509.65" r="1.75" fill="#9e9e9e"/>
<circle cx="399.42" cy="525.91" r="1.75" fill="#9e9e9e"/>
<line x1="399.42" y1="493.39" x2="399.42" y2="517.78" stroke="#142a52" stroke-width="1.45"/>
<circle cx="399.42" cy="493.39" r="1.95" fill="#142a52"/>
<circle cx="399.42" cy="517.78" r="1.95" fill="#142a52"/>
<circle cx="412.04" cy="469.00" r="1.75" fill="#9e9e9e"/>
<circle cx="412.04" cy="477.13" r="1.75" fill="#9e9e9e"/>
<circle cx="412.04" cy="485.26" r="1.75" fill="#9e9e9e"/>
<circle cx="412.04" cy="493.39" r="1.75" fill="#9e9e9e"/>
<circle cx="412.04" cy="509.65" r="1.75" fill="#9e9e9e"/>
<circle cx="412.04" cy="517.78" r="1.75" fill="#9e9e9e"/>
<line x1="412.04" y1="501.52" x2="412.04" y2="525.91" stroke="#142a52" stroke-width="1.45"/>
<circle cx="412.04" cy="501.52" r="1.95" fill="#142a52"/>
<circle cx="412.04" cy="525.91" r="1.95" fill="#142a52"/>
<circle cx="424.66" cy="469.00" r="1.75" fill="#9e9e9e"/>
<circle cx="424.66" cy="477.13" r="1.75" fill="#9e9e9e"/>
<circle cx="424.66" cy="485.26" r="1.75" fill="#9e9e9e"/>
<circle cx="424.66" cy="493.39" r="1.75" fill="#9e9e9e"/>
<circle cx="424.66" cy="501.52" r="1.75" fill="#9e9e9e"/>
<circle cx="424.66" cy="517.78" r="1.75" fill="#9e9e9e"/>
<line x1="424.66" y1="509.65" x2="424.66" y2="525.91" stroke="#142a52" stroke-width="1.45"/>
<circle cx="424.66" cy="509.65" r="1.95" fill="#142a52"/>
<circle cx="424.66" cy="525.91" r="1.95" fill="#142a52"/>
<line x1="152.4" y1="467.5" x2="152.4" y2="470.5" stroke="#9aa" stroke-width="0.6"/>
<line x1="156" y1="469.0" x2="158.6" y2="469.0" stroke="#1a1a1a" stroke-width="0.9"/>
<text x="161.9" y="471.1" font-size="5.8" textLength="38.5" lengthAdjust="spacingAndGlyphs" fill="#2e2e2e" stroke="#2e2e2e" stroke-width="0.1">Hypercalcemia</text>
<rect x="146.57" y="475.63" width="6.03" height="3.00" fill="#12346c"/>
<line x1="156" y1="477.13" x2="158.6" y2="477.13" stroke="#1a1a1a" stroke-width="0.9"/>
<text x="161.9" y="479.23" font-size="5.8" textLength="71.6" lengthAdjust="spacingAndGlyphs" fill="#2e2e2e" stroke="#2e2e2e" stroke-width="0.1">Soft_Tissue_Plasmacytoma</text>
<rect x="146.57" y="483.76" width="6.03" height="3.00" fill="#12346c"/>
<line x1="156" y1="485.26" x2="158.6" y2="485.26" stroke="#1a1a1a" stroke-width="0.9"/>
<text x="161.9" y="487.36" font-size="5.8" textLength="33.4" lengthAdjust="spacingAndGlyphs" fill="#2e2e2e" stroke="#2e2e2e" stroke-width="0.1">Renal_failure</text>
<rect x="110.39" y="491.89" width="42.21" height="3.00" fill="#12346c"/>
<line x1="156" y1="493.39" x2="158.6" y2="493.39" stroke="#1a1a1a" stroke-width="0.9"/>
<text x="161.9" y="495.49" font-size="5.8" textLength="23.9" lengthAdjust="spacingAndGlyphs" fill="#2e2e2e" stroke="#2e2e2e" stroke-width="0.1">MRI_foci</text>
<rect x="92.30" y="500.02" width="60.30" height="3.00" fill="#12346c"/>
<line x1="156" y1="501.52" x2="158.6" y2="501.52" stroke="#1a1a1a" stroke-width="0.9"/>
<text x="161.9" y="503.62" font-size="5.8" textLength="25.1" lengthAdjust="spacingAndGlyphs" fill="#2e2e2e" stroke="#2e2e2e" stroke-width="0.1">FLC_ratio</text>
<rect x="92.30" y="508.15" width="60.30" height="3.00" fill="#12346c"/>
<line x1="156" y1="509.65" x2="158.6" y2="509.65" stroke="#1a1a1a" stroke-width="0.9"/>
<text x="161.9" y="511.75" font-size="5.8" textLength="19.3" lengthAdjust="spacingAndGlyphs" fill="#2e2e2e" stroke="#2e2e2e" stroke-width="0.1">BMx60</text>
<rect x="86.27" y="516.28" width="66.33" height="3.00" fill="#12346c"/>
<line x1="156" y1="517.78" x2="158.6" y2="517.78" stroke="#1a1a1a" stroke-width="0.9"/>
<text x="161.9" y="519.88" font-size="5.8" textLength="18.0" lengthAdjust="spacingAndGlyphs" fill="#2e2e2e" stroke="#2e2e2e" stroke-width="0.1">anemia</text>
<rect x="86.27" y="524.41" width="66.33" height="3.00" fill="#12346c"/>
<line x1="156" y1="525.91" x2="158.6" y2="525.91" stroke="#1a1a1a" stroke-width="0.9"/>
<text x="161.9" y="528.01" font-size="5.8" textLength="50.8" lengthAdjust="spacingAndGlyphs" fill="#2e2e2e" stroke="#2e2e2e" stroke-width="0.1">Lytic_bone_disease</text>
<line x1="155.8" y1="464.0" x2="155.8" y2="530.5" stroke="#1a1a1a" stroke-width="1.1"/>
<line x1="83" y1="530" x2="156" y2="530" stroke="#1a1a1a" stroke-width="1"/>
<line x1="152.6" y1="530" x2="152.6" y2="532.6" stroke="#1a1a1a" stroke-width="0.8"/>
<text x="152.6" y="541.2" font-size="5.8" text-anchor="middle" fill="#2e2e2e" stroke="#2e2e2e" stroke-width="0.1">0</text>
<line x1="134.51" y1="530" x2="134.51" y2="532.6" stroke="#1a1a1a" stroke-width="0.8"/>
<text x="134.51" y="541.2" font-size="5.8" text-anchor="middle" fill="#2e2e2e" stroke="#2e2e2e" stroke-width="0.1">3</text>
<line x1="116.41999999999999" y1="530" x2="116.41999999999999" y2="532.6" stroke="#1a1a1a" stroke-width="0.8"/>
<text x="116.41999999999999" y="541.2" font-size="5.8" text-anchor="middle" fill="#2e2e2e" stroke="#2e2e2e" stroke-width="0.1">6</text>
<line x1="98.32999999999998" y1="530" x2="98.32999999999998" y2="532.6" stroke="#1a1a1a" stroke-width="0.8"/>
<text x="98.32999999999998" y="541.2" font-size="5.8" text-anchor="middle" fill="#2e2e2e" stroke="#2e2e2e" stroke-width="0.1">9</text>
<text x="119.5" y="552.6" font-size="7.6" text-anchor="middle" font-weight="bold" textLength="19.2" lengthAdjust="spacingAndGlyphs" fill="#3a3a3a">Set size</text>
<rect x="0.5" y="0.5" width="519" height="560" fill="none" stroke="#777777" stroke-width="1"/>
</svg>
</body></html>
